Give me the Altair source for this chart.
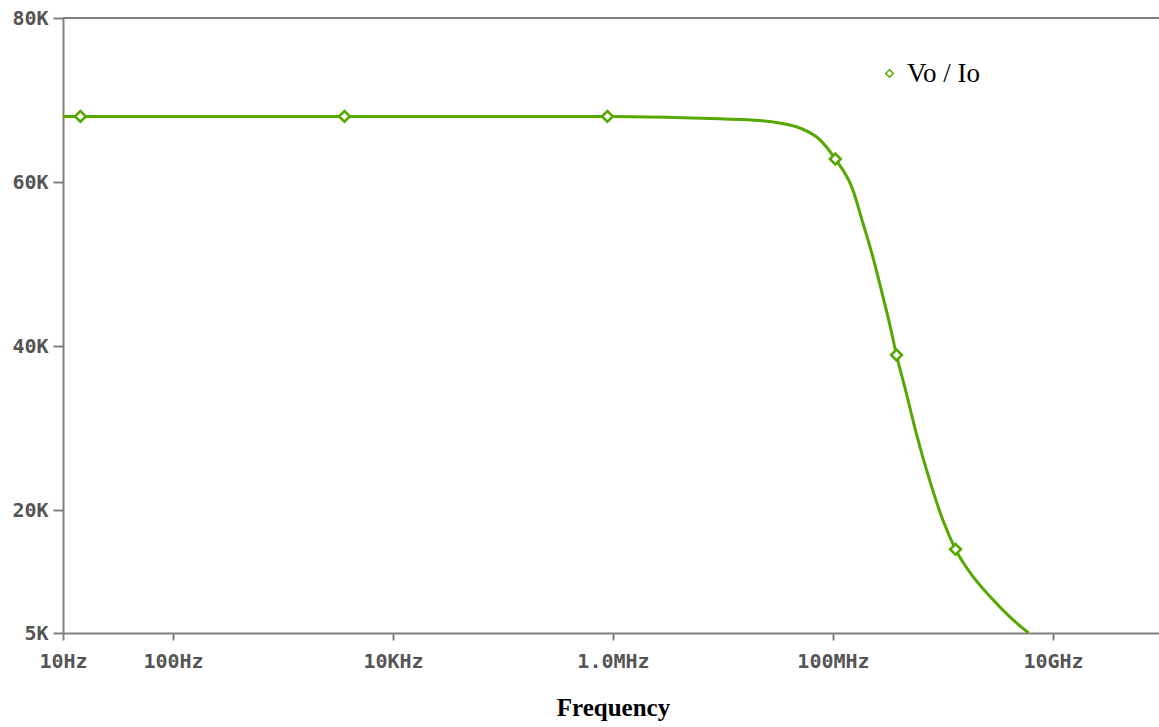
import altair as alt
import pandas as pd

# ---- data ----
freq_hz = [10, 14.4, 3622, 8.9e5, 3.0e6, 9.3e6, 2.15e7, 3.27e7, 4.96e7, 7.54e7,
           1.05e8, 1.51e8, 1.87e8, 2.30e8, 2.74e8, 3.26e8, 3.78e8, 4.63e8, 5.70e8,
           7.53e8, 9.95e8, 1.30e9, 1.87e9, 2.65e9, 4.03e9, 6.0e9]
gain_k = [68.0, 68.0, 68.0, 68.0, 67.9, 67.7, 67.5, 67.2, 66.6, 65.2,
          62.8, 59.1, 55.0, 50.9, 46.9, 42.8, 38.9, 34.3, 29.4,
          23.7, 18.8, 15.2, 11.9, 9.5, 7.0, 5.0]
marker_freq_hz = [14.4, 3622, 8.9e5, 1.05e8, 3.78e8, 1.30e9]
marker_gain_k = [68.0, 68.0, 68.0, 62.8, 38.9, 15.2]

x_tick_values = [10, 100, 1e4, 1e6, 1e8, 1e10]
x_tick_labels = ["10Hz", "100Hz", "10KHz", "1.0MHz", "100MHz", "10GHz"]
y_tick_values = [5, 20, 40, 60, 80]
series_name = "Vo / Io"
x_title = "Frequency"

GREEN = "#55a800"
AXIS_GRAY = "#808080"
LABEL_GRAY = "#555555"

curve = pd.DataFrame({"f": freq_hz, "g": gain_k})
markers = pd.DataFrame({"f": marker_freq_hz, "g": marker_gain_k,
                        "s": [series_name] * len(marker_freq_hz)})
top = pd.DataFrame({"g": [y_tick_values[-1]]})

label_expr = ""
for v, l in zip(x_tick_values, x_tick_labels):
    label_expr += f"datum.value == {v:.0f} ? '{l}' : "
label_expr += "''"

x_enc = alt.X(
    "f:Q",
    scale=alt.Scale(type="log", domain=[10, 9.2e10], nice=False),
    axis=alt.Axis(
        values=x_tick_values, labelExpr=label_expr, title=x_title, grid=False,
        tickSize=7, labelPadding=11, labelFlush=False, labelOverlap=False,
        titleX=550, titleY=82, titleAlign="center", titleBaseline="alphabetic",
        titleFont="Liberation Serif", titleFontWeight="bold", titleFontSize=25,
        titleColor="black",
    ),
)
y_enc = alt.Y(
    "g:Q",
    scale=alt.Scale(domain=[5, 80], nice=False, zero=False),
    axis=alt.Axis(values=y_tick_values, labelExpr="datum.value + 'K'", title=None,
                  grid=False, tickSize=10, labelPadding=5),
)

line = alt.Chart(curve).mark_line(
    color=GREEN, strokeWidth=3, interpolate="monotone", clip=True
).encode(x=x_enc, y=y_enc)

points = alt.Chart(markers).mark_point(
    shape="diamond", filled=False, fill="white", fillOpacity=1, size=115,
    strokeWidth=2.6, opacity=1,
).encode(
    x="f:Q", y="g:Q",
    color=alt.Color(
        "s:N",
        scale=alt.Scale(domain=[series_name], range=[GREEN]),
        legend=alt.Legend(
            orient="none", legendX=813, legendY=42, title=None, padding=0,
            symbolType="diamond", symbolSize=55, symbolStrokeWidth=1.5,
            symbolFillColor="white", labelFont="Liberation Serif",
            labelFontSize=27, labelColor="black", labelOffset=4,
        ),
    ),
)

border = alt.Chart(top).mark_rule(color=AXIS_GRAY, strokeWidth=2).encode(y="g:Q")

chart = (
    alt.layer(border, line, points)
    .properties(
        width=1096, height=615,
        autosize=alt.AutoSizeParams(type="none"),
        padding={"left": 63, "top": 18, "right": 0, "bottom": 94},
        background="white",
    )
    .configure_view(stroke=None)
    .configure_axis(
        domainColor=AXIS_GRAY, domainWidth=2, tickColor=AXIS_GRAY, tickWidth=2,
        labelFont="DejaVu Sans Mono", labelFontWeight="bold", labelFontSize=20,
        labelColor=LABEL_GRAY,
    )
)

chart.save("out.html", embed_options={"renderer": "svg", "actions": False})
